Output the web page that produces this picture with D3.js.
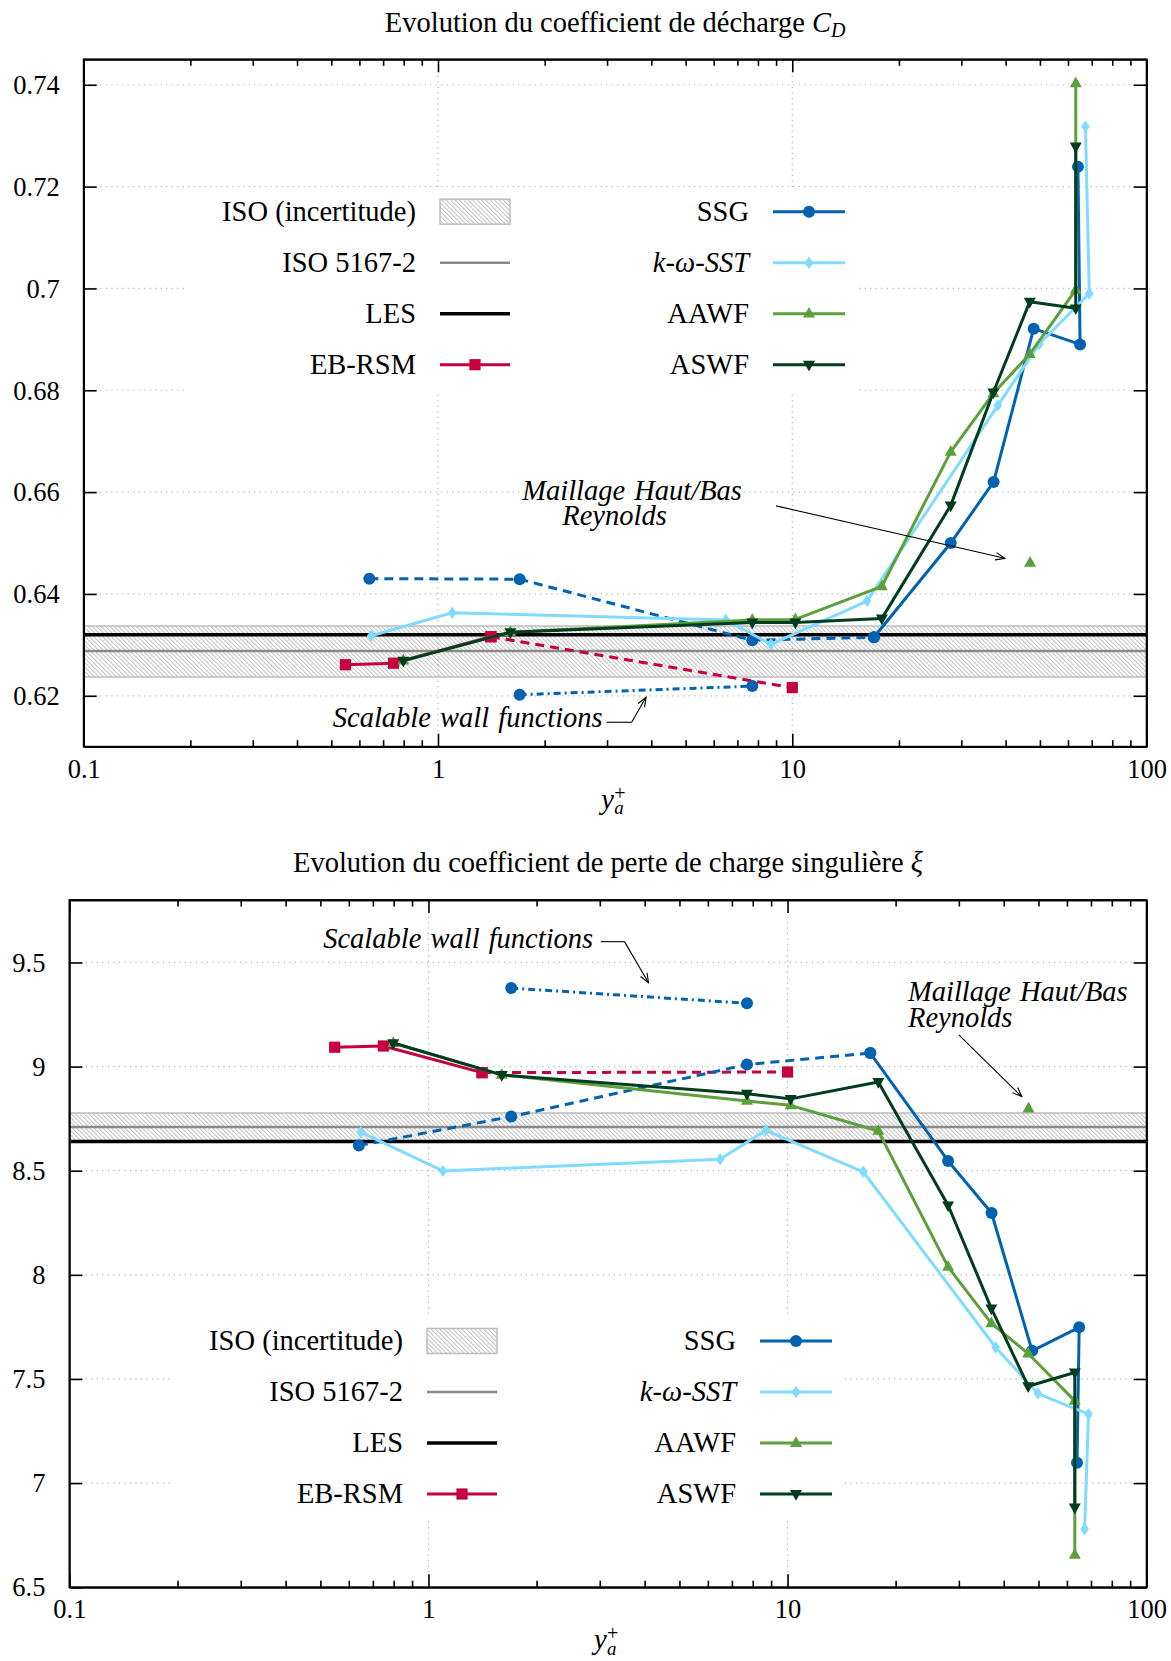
<!DOCTYPE html>
<html><head><meta charset="utf-8">
<script src="https://cdn.jsdelivr.net/npm/d3@7"></script>
<style>
body{margin:0;background:#fff;}
svg text{font-family:"Liberation Serif","Times New Roman",serif;fill:#000;}
</style></head><body>
<svg id="chart" width="1171" height="1661"></svg>
<script>
// ---------------- data ----------------
const xTickValues = [0.1, 1, 10, 100];
const xTickLabels = ["0.1", "1", "10", "100"];
const xMinorTicks = [0.2,0.3,0.4,0.5,0.6,0.7,0.8,0.9,2,3,4,5,6,7,8,9,20,30,40,50,60,70,80,90];
const cdTickValues = [0.62, 0.64, 0.66, 0.68, 0.70, 0.72, 0.74];
const cdTickLabels = ["0.62", "0.64", "0.66", "0.68", "0.7", "0.72", "0.74"];
const xiTickValues = [6.5, 7, 7.5, 8, 8.5, 9, 9.5];
const xiTickLabels = ["6.5", "7", "7.5", "8", "8.5", "9", "9.5"];

// y+ of the meshes
const ssgYplusDashed   = [0.64, 1.70, 7.71, 17.0];
const ssgYplus         = [17.0, 28.0, 37.0, 48.0, 64.9, 64.0];
const ssgScalableYplus = [1.70, 7.71];
const sstYplus         = [0.648, 1.097, 6.49, 8.70, 16.25, 38.0, 49.8, 68.9, 67.2];
const awfYplus         = [0.798, 1.60, 7.71, 10.2, 17.9, 28.0, 36.95, 46.8, 63.1, 63.1];
const ebrsmYplus       = [0.548, 0.749, 1.41];
const ebrsmYplusDashed = [1.41, 10.0];
const aawfFineYplus    = [46.9];

// discharge coefficient C_D
const cdSSGDashed   = [0.6430, 0.6429, 0.6309, 0.6315];
const cdSSG         = [0.6315, 0.6500, 0.6620, 0.6921, 0.6890, 0.7239];
const cdSSGScalable = [0.6202, 0.6219];
const cdSST         = [0.6318, 0.6363, 0.6349, 0.6301, 0.6386, 0.6770, 0.6891, 0.6990, 0.7318];
const cdAAWF        = [0.6269, 0.6325, 0.6349, 0.6350, 0.6415, 0.6679, 0.6794, 0.6871, 0.6997, 0.7403];
const cdASWF        = [0.6269, 0.6325, 0.6344, 0.6344, 0.6352, 0.6574, 0.6796, 0.6974, 0.6961, 0.7279];
const cdEBRSM       = [0.6261, 0.6264, 0.6316];
const cdEBRSMDashed = [0.6316, 0.6216];
const cdAAWFFine    = [0.6461];
const cdISO = 0.6288, cdISOBand = [0.6237, 0.6337], cdLES = 0.6320;

// singular head loss coefficient xi
const xiSSGDashed   = [8.621, 8.760, 9.010, 9.065];
const xiSSG         = [9.065, 8.547, 8.297, 7.635, 7.748, 7.098];
const xiSSGScalable = [9.377, 9.304];
const xiSST         = [8.685, 8.499, 8.555, 8.694, 8.495, 7.651, 7.430, 7.331, 6.779];
const xiAAWF        = [9.113, 8.960, 8.835, 8.814, 8.691, 8.038, 7.767, 7.622, 7.395, 6.655];
const xiASWF        = [9.113, 8.960, 8.870, 8.845, 8.926, 8.334, 7.839, 7.465, 7.531, 6.883];
const xiEBRSM       = [9.093, 9.099, 8.971];
const xiEBRSMDashed = [8.971, 8.974];
const xiAAWFFine    = [8.798];
const xiISO = 8.710, xiISOBand = [8.643, 8.777], xiLES = 8.640;

const legendLeft  = ["ISO (incertitude)", "ISO 5167-2", "LES", "EB-RSM"];
const legendRight = ["SSG", "k-ω-SST", "AAWF", "ASWF"];

// ---------------- style ----------------
const C = {ssg:"#0062b1", sst:"#80dcff", aawf:"#5ca03b", aswf:"#003c1e", eb:"#c5003e",
           iso:"#8a8a8a", les:"#000", grid:"#b5b5b5", band:"#bdbdbd"};
const FS = 28.5;   // text
const FT = 26.5;   // tick labels

const svg = d3.select("#chart");
const defs = svg.append("defs");
defs.append("pattern").attr("id","hatch").attr("patternUnits","userSpaceOnUse")
  .attr("width",3.1).attr("height",10).attr("patternTransform","rotate(-45)")
  .append("line").attr("x1",0.6).attr("y1",-1).attr("x2",0.6).attr("y2",11)
  .attr("stroke","#a0a0a0").attr("stroke-width",0.75);

function markerPath(sel, type, color) {
  if (type === "circle") return sel.append("circle").attr("r",6).attr("fill",color);
  let d;
  if (type === "square") d = "M-5.6,-5.6H5.6V5.6H-5.6Z";
  if (type === "up") d = "M0,-6.8L6,3.9L-6,3.9Z";
  if (type === "down") d = "M0,6.8L6,-3.9L-6,-3.9Z";
  if (type === "diamond") d = "M0,-6.2L4.4,0L0,6.2L-4.4,0Z";
  return sel.append("path").attr("d", d).attr("fill", color);
}

function arrow(g, x1, y1, x2, y2) {
  g.append("line").attr("x1",x1).attr("y1",y1).attr("x2",x2).attr("y2",y2)
    .attr("stroke","#000").attr("stroke-width",1.1);
  const a = Math.atan2(y2-y1, x2-x1), L = 10, s = 0.38;
  const p1 = [x2 - L*Math.cos(a-s), y2 - L*Math.sin(a-s)];
  const p2 = [x2 - L*Math.cos(a+s), y2 - L*Math.sin(a+s)];
  g.append("path").attr("d", `M${p1}L${x2},${y2}L${p2}`).attr("fill","none")
    .attr("stroke","#000").attr("stroke-width",1.1);
}

function drawChart(cfg) {
  const x = d3.scaleLog().domain([0.1, 100]).range([cfg.left, cfg.right]);
  const y = d3.scaleLinear().domain(cfg.yDomain).range([cfg.bottom, cfg.top]);
  const g = svg.append("g");
  const W = cfg.right - cfg.left;

  // grid
  const grid = g.append("g").attr("stroke", C.grid).attr("stroke-width",1.2).attr("stroke-dasharray","1.2,4.3");
  cfg.yTicks.filter(v => v > cfg.yDomain[0] + 1e-9).forEach(v =>
    grid.append("line").attr("x1",cfg.left).attr("x2",cfg.right).attr("y1",y(v)).attr("y2",y(v)));
  [1, 10].forEach(v =>
    grid.append("line").attr("x1",x(v)).attr("x2",x(v)).attr("y1",cfg.top).attr("y2",cfg.bottom));

  // ISO band + lines
  g.append("rect").attr("x",cfg.left).attr("width",W)
    .attr("y", y(cfg.band[1])).attr("height", y(cfg.band[0]) - y(cfg.band[1]))
    .attr("fill","url(#hatch)");
  cfg.band.forEach(v => g.append("line").attr("x1",cfg.left).attr("x2",cfg.right)
    .attr("y1",y(v)).attr("y2",y(v)).attr("stroke",C.band).attr("stroke-width",1.6));
  g.append("line").attr("x1",cfg.left).attr("x2",cfg.right).attr("y1",y(cfg.iso)).attr("y2",y(cfg.iso))
    .attr("stroke",C.iso).attr("stroke-width",2.4);
  g.append("line").attr("x1",cfg.left).attr("x2",cfg.right).attr("y1",y(cfg.les)).attr("y2",y(cfg.les))
    .attr("stroke",C.les).attr("stroke-width",3.6);

  // legend
  const lg = cfg.legend, rowH = 51;
  g.append("rect").attr("x", lg.x - 229).attr("y", lg.y - 24).attr("width", 670).attr("height", 204).attr("fill","#fff");
  const leftItems = [{t:"band"},{t:"line",c:C.iso,w:2.4},{t:"line",c:C.les,w:3.6},{t:"line",c:C.eb,w:3,m:"square"}];
  const rightItems = [{c:C.ssg,m:"circle"},{c:C.sst,m:"diamond"},{c:C.aawf,m:"up"},{c:C.aswf,m:"down"}];
  legendLeft.forEach((lab, i) => {
    const ry = lg.y + i*rowH;
    g.append("text").attr("x", lg.x).attr("y", ry + 9).attr("text-anchor","end").attr("font-size",FS).text(lab);
    const it = leftItems[i], x1 = lg.x + 24, x2 = lg.x + 94;
    if (it.t === "band") {
      g.append("rect").attr("x",x1).attr("y",ry-12.5).attr("width",x2-x1).attr("height",25)
        .attr("fill","url(#hatch)").attr("stroke",C.band).attr("stroke-width",1.5);
    } else {
      g.append("line").attr("x1",x1).attr("x2",x2).attr("y1",ry).attr("y2",ry).attr("stroke",it.c).attr("stroke-width",it.w);
      if (it.m) markerPath(g.append("g").attr("transform",`translate(${(x1+x2)/2},${ry})`), it.m, it.c);
    }
  });
  legendRight.forEach((lab, i) => {
    const ry = lg.y + i*rowH;
    const t = g.append("text").attr("x", lg.x + 333).attr("y", ry + 9).attr("text-anchor","end").attr("font-size",FS);
    if (i === 1) {
      t.append("tspan").attr("font-style","italic").text("k");
      t.append("tspan").text("-");
      t.append("tspan").attr("font-style","italic").text("ω");
      t.append("tspan").text("-");
      t.append("tspan").attr("font-style","italic").text("SST");
    } else t.text(lab);
    const it = rightItems[i], x1 = lg.x + 357, x2 = lg.x + 429;
    g.append("line").attr("x1",x1).attr("x2",x2).attr("y1",ry).attr("y2",ry).attr("stroke",it.c).attr("stroke-width",3);
    markerPath(g.append("g").attr("transform",`translate(${(x1+x2)/2},${ry})`), it.m, it.c);
  });

  // series
  const line = d3.line().x(d => x(d[0])).y(d => y(d[1]));
  function series(xs, ys, color, marker, dash, lineOn = true) {
    const pts = xs.map((v, i) => [v, ys[i]]);
    if (lineOn && pts.length > 1) {
      const p = g.append("path").attr("d", line(pts)).attr("fill","none").attr("stroke",color)
        .attr("stroke-width",3).attr("stroke-linejoin","round");
      if (dash) p.attr("stroke-dasharray", dash);
    }
    pts.forEach(p => markerPath(g.append("g").attr("transform",`translate(${x(p[0])},${y(p[1])})`), marker, color));
  }
  const d = cfg.data;
  series(ebrsmYplus, d.eb, C.eb, "square");
  series(ebrsmYplusDashed, d.ebDash, C.eb, "square", "9,6");
  series(ssgYplusDashed, d.ssgDash, C.ssg, "circle", "9,6");
  series(ssgScalableYplus, d.ssgScal, C.ssg, "circle", "7,4,2,4");
  series(ssgYplus, d.ssg, C.ssg, "circle");
  series(sstYplus, d.sst, C.sst, "diamond");
  series(awfYplus, d.aawf, C.aawf, "up");
  series(aawfFineYplus, d.aawfFine, C.aawf, "up", null, false);
  series(awfYplus, d.aswf, C.aswf, "down");

  // axes (inward ticks, mirrored)
  const styleAxis = a => { a.selectAll("path,line").attr("stroke","#000").attr("stroke-width",1.6);
                           a.attr("font-family",null).attr("font-size",null); };
  const ax = g.append("g").attr("transform",`translate(0,${cfg.bottom})`)
    .call(d3.axisBottom(x).tickValues(xTickValues).tickFormat((v,i)=>xTickLabels[i]).tickSize(-13).tickSizeOuter(0).tickPadding(12));
  styleAxis(ax); ax.selectAll("text").attr("font-size",FT).attr("dy","0.71em").attr("y",12);
  const axm = g.append("g").attr("transform",`translate(0,${cfg.bottom})`)
    .call(d3.axisBottom(x).tickValues(xMinorTicks).tickFormat("").tickSize(-6.5).tickSizeOuter(0));
  styleAxis(axm);
  const at = g.append("g").attr("transform",`translate(0,${cfg.top})`)
    .call(d3.axisTop(x).tickValues(xTickValues).tickFormat("").tickSize(-13).tickSizeOuter(0));
  styleAxis(at);
  const atm = g.append("g").attr("transform",`translate(0,${cfg.top})`)
    .call(d3.axisTop(x).tickValues(xMinorTicks).tickFormat("").tickSize(-6.5).tickSizeOuter(0));
  styleAxis(atm);
  const ay = g.append("g").attr("transform",`translate(${cfg.left},0)`)
    .call(d3.axisLeft(y).tickValues(cfg.yTicks).tickFormat((v,i)=>cfg.yLabels[i]).tickSize(-13).tickSizeOuter(0).tickPadding(24));
  styleAxis(ay); ay.selectAll("text").attr("font-size",FT).attr("dy","0.33em");
  const ar = g.append("g").attr("transform",`translate(${cfg.right},0)`)
    .call(d3.axisRight(y).tickValues(cfg.yTicks).tickFormat("").tickSize(-13).tickSizeOuter(0));
  styleAxis(ar);
  g.append("rect").attr("x",cfg.left).attr("y",cfg.top).attr("width",W).attr("height",cfg.bottom-cfg.top)
    .attr("fill","none").attr("stroke","#000").attr("stroke-width",1.8);

  // title
  const cx = (cfg.left + cfg.right) / 2;
  const tt = g.append("text").attr("x", cx).attr("y", cfg.top - 27.6).attr("text-anchor","middle").attr("font-size",FS);
  cfg.title(tt);

  // x label y_a^+ (single text element)
  const lx = cx - 14, ly = cfg.bottom + 62;
  const xl = g.append("text").attr("x",lx).attr("y",ly).attr("font-size",FS);
  xl.append("tspan").attr("font-style","italic").text("y");
  xl.append("tspan").attr("x",lx+13).attr("y",ly-9).attr("font-size",20).text("+");
  xl.append("tspan").attr("x",lx+13).attr("y",ly+5.5).attr("font-size",19).attr("font-style","italic").text("a");

  // annotations
  const an = cfg.ann;
  g.append("text").attr("x", x(an.scal.tx)).attr("y", y(an.scal.ty)).attr("text-anchor","end")
    .attr("font-size",FS).attr("font-style","italic").attr("word-spacing","2px").text("Scalable wall functions");
  g.append("line").attr("x1",x(an.scal.c0[0])).attr("y1",y(an.scal.c0[1])).attr("x2",x(an.scal.c1[0])).attr("y2",y(an.scal.c1[1]))
    .attr("stroke","#000").attr("stroke-width",1.1);
  arrow(g, x(an.scal.c1[0]), y(an.scal.c1[1]), x(an.scal.tip[0]), y(an.scal.tip[1]));
  const mt = g.append("text").attr("text-anchor", an.mail.anchor).attr("font-size",FS)
    .attr("font-style","italic").attr("word-spacing","2px");
  an.mail.lines.forEach(l => mt.append("tspan").attr("x", x(l[0])).attr("y", y(l[1])).text(l[2]));
  arrow(g, x(an.mail.from[0]), y(an.mail.from[1]), x(an.mail.tip[0]), y(an.mail.tip[1]));
}

drawChart({
  left: 83.7, right: 1146.6, top: 59.3, bottom: 746.7, yDomain: [0.61, 0.745],
  yTicks: cdTickValues, yLabels: cdTickLabels,
  band: cdISOBand, iso: cdISO, les: cdLES,
  legend: {x: 416, y: 211.7},
  data: {eb: cdEBRSM, ebDash: cdEBRSMDashed, ssgDash: cdSSGDashed, ssgScal: cdSSGScalable, ssg: cdSSG,
         sst: cdSST, aawf: cdAAWF, aawfFine: cdAAWFFine, aswf: cdASWF},
  title: t => { t.append("tspan").text("Evolution du coefficient de décharge ");
                t.append("tspan").attr("font-style","italic").text("C");
                t.append("tspan").attr("font-style","italic").attr("font-size",20).attr("dy",5).text("D"); },
  ann: {
    scal: {tx: 2.917, ty: 0.6138, c0: [2.993, 0.6148], c1: [3.52, 0.6148], tip: [3.865, 0.6197]},
    mail: {anchor: "middle", lines: [[3.53, 0.6585, "Maillage Haut/Bas"], [3.15, 0.6535, "Reynolds"]],
           from: [9.0, 0.6573], tip: [39.8, 0.6470]}
  }
});

drawChart({
  left: 69.4, right: 1146.6, top: 900, bottom: 1587.2, yDomain: [6.5, 9.8],
  yTicks: xiTickValues, yLabels: xiTickLabels,
  band: xiISOBand, iso: xiISO, les: xiLES,
  legend: {x: 403, y: 1341},
  data: {eb: xiEBRSM, ebDash: xiEBRSMDashed, ssgDash: xiSSGDashed, ssgScal: xiSSGScalable, ssg: xiSSG,
         sst: xiSST, aawf: xiAAWF, aawfFine: xiAAWFFine, aswf: xiASWF},
  title: t => { t.append("tspan").text("Evolution du coefficient de perte de charge singulière ");
                t.append("tspan").attr("font-style","italic").text("ξ"); },
  ann: {
    scal: {tx: 2.876, ty: 9.568, c0: [3.018, 9.600], c1: [3.515, 9.600], tip: [4.10, 9.403]},
    mail: {anchor: "start", lines: [[21.65, 9.3166, "Maillage Haut/Bas"], [21.65, 9.189, "Reynolds"]],
           from: [30.0, 9.152], tip: [44.9, 8.856]}
  }
});
</script>
</body></html>
